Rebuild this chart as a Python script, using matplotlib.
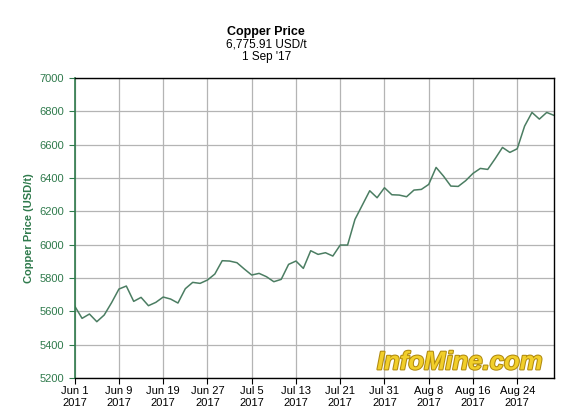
"""
Copper price, Jun 1 - Sep 1 2017 (LME trading days)
"""

import matplotlib
matplotlib.use('Agg')
import matplotlib.pyplot as plt
import matplotlib.patheffects as pe
import numpy as np

plt.rcParams['font.family'] = ['Liberation Sans', 'DejaVu Sans']

# one value per trading day, Jun 1 .. Sep 1 2017
price = [5632, 5558, 5584, 5538, 5578, 5652, 5734, 5752, 5660, 5684,
         5634, 5654, 5686, 5674, 5650, 5736, 5774, 5768, 5788, 5824,
         5904, 5902, 5892, 5854, 5818, 5828, 5808, 5778, 5792, 5882,
         5902, 5858, 5964, 5942, 5952, 5932, 5998, 5998, 6152, 6238,
         6324, 6282, 6342, 6300, 6298, 6288, 6328, 6332, 6362, 6464,
         6412, 6352, 6350, 6384, 6428, 6458, 6452, 6516, 6584, 6554,
         6576, 6712, 6794, 6754, 6794, 6776]
tick_labels = ['Jun 1\n2017', 'Jun 9\n2017', 'Jun 19\n2017', 'Jun 27\n2017',
               'Jul 5\n2017', 'Jul 13\n2017', 'Jul 21\n2017', 'Jul 31\n2017',
               'Aug 8\n2017', 'Aug 16\n2017', 'Aug 24\n2017']
yticks = list(range(5200, 7001, 200))

green = '#2f7a4c'
line_col = '#4b7d62'

x = np.arange(len(price))

fig = plt.figure(figsize=(5.79, 4.2), dpi=100)
ax = fig.add_axes([0.129, 0.1, 0.828, 0.714])

ax.plot(x, price, color=line_col, lw=1.1)

ax.set_xlim(0, len(price) - 1)
ax.set_ylim(5200, 7000)
ax.set_xticks(np.arange(0, 61, 6))
ax.set_xticklabels(tick_labels, fontsize=8)
ax.set_yticks(yticks)
ax.set_yticklabels([str(v) for v in yticks], fontsize=8, color=green)
ax.tick_params(axis='both', direction='out', length=4, width=0.8)
ax.tick_params(axis='y', colors=green)
ax.tick_params(axis='x', pad=2)

ax.grid(True, color='#b4b4b4', lw=0.9)
ax.set_axisbelow(True)
for s in ['top', 'right', 'bottom']:
    ax.spines[s].set_color('black')
    ax.spines[s].set_linewidth(1.0)
ax.spines['left'].set_color(green)
ax.spines['left'].set_linewidth(1.2)

ax.set_ylabel('Copper Price (USD/t)', color=green, fontsize=8,
              fontweight='bold', labelpad=4)

fig.text(0.46, 0.917, 'Copper Price', ha='center', fontsize=9,
         fontweight='bold')
fig.text(0.46, 0.887, '6,775.91 USD/t', ha='center', fontsize=8.5)
fig.text(0.46, 0.857, "1 Sep '17", ha='center', fontsize=8.5)

# watermark
ax.text(0.977, 0.012, 'InfoMine.com', transform=ax.transAxes, ha='right',
        va='bottom', fontsize=18.5, fontweight='bold', style='italic',
        color='#f2cf2a',
        path_effects=[pe.withStroke(linewidth=1.5, foreground='#b08a10')])

fig.savefig('out.png', dpi=100)
